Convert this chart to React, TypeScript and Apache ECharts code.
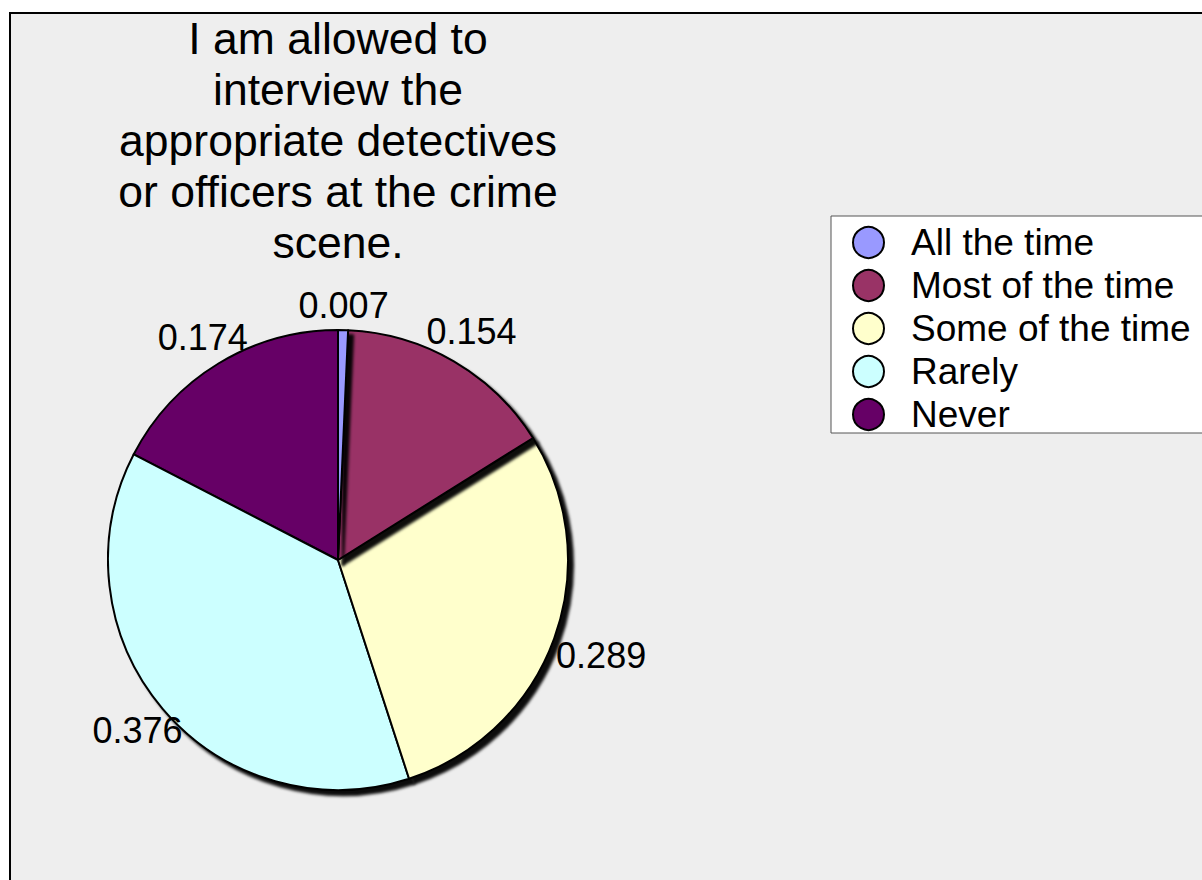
import React, { useEffect, useRef } from "react";
import * as echarts from "echarts";

const titleLines = [
  "I am allowed to",
  "interview the",
  "appropriate detectives",
  "or officers at the crime",
  "scene.",
];
const categories = ["All the time", "Most of the time", "Some of the time", "Rarely", "Never"];
const values = [0.007, 0.154, 0.289, 0.376, 0.174];
const colors = ["#9999ff", "#993366", "#ffffcc", "#ccffff", "#660066"];

// layout constants (not data)
const CX = 338;
const CY = 560;
const R = 230;
const labelRadius = [255, 265, 280, 263, 260];

export default function App() {
  const ref = useRef<HTMLDivElement>(null);
  useEffect(() => {
    if (!ref.current) return;
    const chart = echarts.init(ref.current, undefined, { renderer: "svg" });
    const total = values.reduce((a, b) => a + b, 0);
    const n = values.length;
    const font = "'Liberation Sans', Arial, sans-serif";
    // drawn in reverse order (counter-clockwise) so each slice's shadow falls on the next one
    const order = categories.map((_, i) => n - 1 - i);
    chart.setOption({
      animation: false,
      graphic: [
        {
          type: "rect",
          z: -10,
          shape: { x: 10, y: 13, width: 1400, height: 1000 },
          style: { fill: "#eeeeee", stroke: "#000", lineWidth: 2 },
        },
        {
          type: "text",
          x: CX,
          y: 13,
          style: {
            text: titleLines.join("\n"),
            font: `44.5px ${font}`,
            fill: "#000",
            align: "center",
            verticalAlign: "top",
            lineHeight: 51,
          },
        },
      ],
      legend: {
        orient: "vertical",
        left: 831,
        top: 216,
        icon: "circle",
        itemWidth: 31,
        itemHeight: 31,
        itemGap: 6,
        padding: [8, 30, 0, 21],
        backgroundColor: "#ffffff",
        borderColor: "#555",
        borderWidth: 1,
        selectedMode: false,
        data: categories,
        textStyle: {
          fontSize: 37,
          lineHeight: 37,
          fontFamily: font,
          color: "#000",
          padding: [0, 0, 0, 22],
        },
      },
      series: [
        {
          type: "pie",
          center: [CX, CY],
          radius: R,
          startAngle: 90,
          clockwise: false,
          emphasis: { disabled: true },
          itemStyle: {
            borderColor: "#000",
            borderWidth: 2,
            shadowColor: "rgba(0,0,0,0.95)",
            shadowBlur: 3,
            shadowOffsetX: 5,
            shadowOffsetY: 5,
          },
          label: {
            show: true,
            position: "outside",
            formatter: (p: any) => String(p.value),
            fontSize: 36,
            fontFamily: font,
            color: "#000",
          },
          labelLine: { show: false },
          labelLayout: (params: any) => {
            const i = n - 1 - params.dataIndex;
            let before = 0;
            for (let k = 0; k < i; k++) before += values[k];
            const mid = ((before + values[i] / 2) / total) * Math.PI * 2;
            const rr = labelRadius[i];
            return {
              x: CX + rr * Math.sin(mid),
              y: CY - rr * Math.cos(mid),
              align: "center",
              verticalAlign: "middle",
            };
          },
          data: order.map((i) => ({
            name: categories[i],
            value: values[i],
            itemStyle: { color: colors[i] },
          })),
        },
      ],
    });
    return () => chart.dispose();
  }, []);
  return (
    <div
      ref={ref}
      style={{ position: "absolute", left: 0, top: 0, width: 1202, height: 880 }}
    />
  );
}
